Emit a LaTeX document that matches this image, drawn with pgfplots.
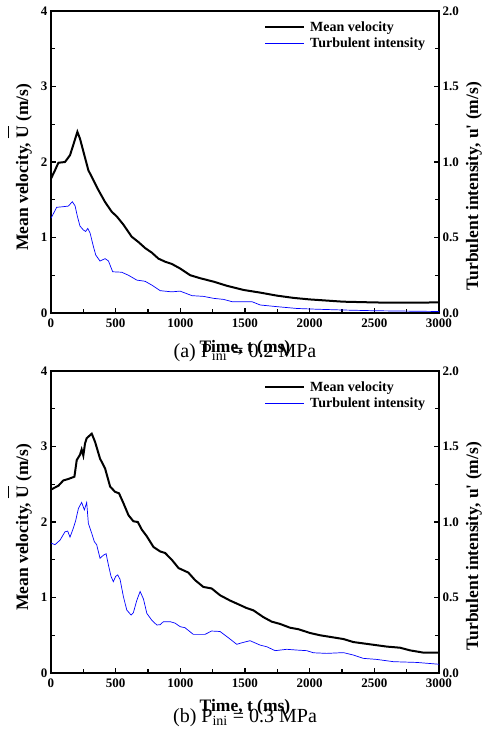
\documentclass[border=0pt]{standalone}
\usepackage{fontspec}
\setmainfont{Liberation Serif}
\usepackage{pgfplots}
\usepackage{pgfplotstable}
\pgfplotsset{compat=1.18}

\pgfplotstableread{
t v
0 1.78
31 1.89
57 1.99
108 2.00
147 2.09
173 2.23
204 2.40
224 2.31
258 2.09
289 1.89
328 1.76
366 1.63
418 1.47
470 1.34
508 1.28
560 1.17
624 1.01
676 0.94
728 0.86
779 0.80
831 0.72
882 0.68
934 0.65
998 0.59
1077 0.50
1155 0.46
1258 0.415
1361 0.36
1490 0.305
1618 0.27
1747 0.23
1876 0.20
2000 0.18
2258 0.15
2500 0.14
2644 0.136
3000 0.14
}\meanA

\pgfplotstableread{
t u
0 0.627
44 0.70
83 0.703
134 0.708
165 0.737
186 0.71
204 0.64
224 0.576
250 0.55
268 0.54
284 0.56
302 0.53
328 0.44
346 0.384
379 0.344
418 0.36
444 0.345
477 0.273
547 0.27
599 0.25
663 0.218
728 0.21
779 0.185
844 0.148
934 0.14
998 0.145
1090 0.115
1180 0.11
1258 0.097
1335 0.09
1400 0.075
1554 0.075
1618 0.053
1747 0.042
1902 0.03
2057 0.025
2250 0.02
2500 0.015
3000 0.01
}\turbA

\pgfplotstableread{
t v
0 2.43
57 2.48
95 2.55
134 2.57
181 2.60
199 2.82
224 2.89
237 2.96
250 2.88
263 3.04
276 3.11
315 3.17
341 3.06
379 2.84
418 2.71
457 2.47
495 2.40
526 2.38
560 2.25
599 2.09
637 2.01
671 2.00
702 1.90
741 1.81
792 1.67
844 1.61
882 1.59
934 1.50
986 1.39
1062 1.33
1114 1.23
1178 1.14
1242 1.12
1307 1.03
1384 0.96
1449 0.91
1513 0.86
1565 0.83
1642 0.74
1707 0.68
1771 0.65
1848 0.60
1913 0.58
2003 0.53
2080 0.50
2261 0.45
2338 0.41
2467 0.38
2596 0.35
2699 0.335
2776 0.30
2879 0.27
3000 0.27
}\meanB

\pgfplotstableread{
t u
0 0.86
31 0.85
70 0.88
108 0.935
129 0.94
147 0.90
173 0.96
191 1.01
212 1.09
237 1.13
258 1.08
276 1.13
289 0.99
315 0.925
335 0.87
353 0.85
379 0.76
405 0.78
426 0.79
444 0.715
464 0.64
482 0.605
500 0.64
516 0.65
534 0.62
560 0.505
586 0.417
619 0.384
637 0.40
663 0.48
689 0.54
715 0.49
741 0.395
779 0.35
818 0.318
844 0.32
869 0.34
921 0.34
960 0.33
998 0.307
1036 0.30
1100 0.256
1191 0.256
1242 0.278
1307 0.275
1371 0.234
1436 0.19
1475 0.20
1539 0.214
1616 0.185
1668 0.174
1733 0.148
1823 0.157
1900 0.152
1977 0.148
2029 0.134
2132 0.13
2261 0.135
2338 0.119
2415 0.097
2519 0.09
2648 0.075
2828 0.07
3000 0.058
}\turbB

\pgfplotsset{
  panel/.style={
    scale only axis, width=388pt, height=302pt,
    xmin=0, xmax=3000,
    axis line style={line width=2.2pt},
    tick style={line width=1.3pt, black},
    major tick length=5pt, minor tick length=4pt,
    tick align=inside,
    /pgf/number format/assume math mode=true,
    /pgf/number format/1000 sep={},
    tick label style={font=\fontsize{13}{13}\selectfont\bfseries},
    xticklabel style={yshift=-2pt},
    label style={font=\fontsize{17.5}{17.5}\selectfont\bfseries},
  },
  leftax/.style={
    panel,
    ymin=0, ymax=4,
    xtick={0,500,...,3000}, minor x tick num=1,
    ytick={0,1,2,3,4}, minor y tick num=1,
    xtick pos=bottom, ytick pos=left,
    xlabel={Time, t (ms)},
    ylabel={Mean velocity, \makebox[0pt][l]{\raisebox{1.08em}{\rule{0.72em}{0.06em}}}U (m/s)},
    ylabel style={at={(axis description cs:-0.080,0.483)}, anchor=center},
  },
  rightax/.style={
    panel,
    ymin=0, ymax=2,
    hide x axis,
    axis y line*=right,
    ytick={0,0.5,...,2}, minor y tick num=1,
    yticklabel style={/pgf/number format/.cd, fixed, fixed zerofill, precision=1},
    ylabel={Turbulent intensity, u\textquotesingle\ (m/s)},
    ylabel style={at={(axis description cs:1.090,0.42)}, anchor=center, rotate=0},
    legend style={draw=none, fill=none, at={(axis description cs:0.549,0.972)},
      anchor=north west, font=\fontsize{14}{14}\selectfont\bfseries,
      cells={anchor=west}, row sep=1pt, column sep=3pt, inner sep=0pt},
    legend image code/.code={\draw[#1] (0pt,0pt) -- (39pt,0pt);},
  },
}

\begin{document}
\begin{tikzpicture}
\useasboundingbox (0pt,0pt) rectangle (482pt,-731pt);

% ---------- Panel (a)
\begin{axis}[leftax, at={(51pt,-313pt)}, anchor=south west,
  xlabel style={at={(axis description cs:0.5,-0.116)}, anchor=center}]
\addplot[black, line width=2pt] table[x=t,y=v] {\meanA};
\end{axis}
\begin{axis}[rightax, at={(51pt,-313pt)}, anchor=south west]
\addlegendimage{black, line width=2pt}
\addlegendentry{Mean velocity}
\addplot[blue, line width=0.7pt] table[x=t,y=u] {\turbA};
\addlegendentry{Turbulent intensity}
\end{axis}
\node[font=\fontsize{20}{20}\selectfont] at (245pt,-353pt) {(a) P\textsubscript{ini} = 0.2 MPa};

% ---------- Panel (b)
\begin{axis}[leftax, at={(51pt,-673pt)}, anchor=south west,
  xlabel style={at={(axis description cs:0.5,-0.113)}, anchor=center}]
\addplot[black, line width=2pt] table[x=t,y=v] {\meanB};
\end{axis}
\begin{axis}[rightax, at={(51pt,-673pt)}, anchor=south west]
\addlegendimage{black, line width=2pt}
\addlegendentry{Mean velocity}
\addplot[blue, line width=0.7pt] table[x=t,y=u] {\turbB};
\addlegendentry{Turbulent intensity}
\end{axis}
\node[font=\fontsize{20}{20}\selectfont] at (245pt,-718pt) {(b) P\textsubscript{ini} = 0.3 MPa};
\end{tikzpicture}
\end{document}
